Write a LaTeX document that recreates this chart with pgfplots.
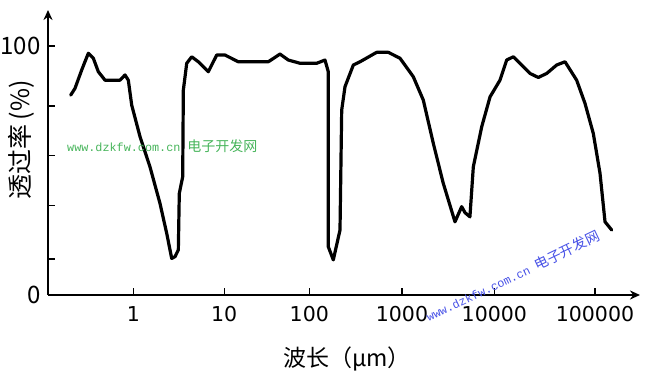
\documentclass[border=0pt]{standalone}
\usepackage{pgfplots}
\pgfplotsset{compat=1.18}
\usetikzlibrary{arrows.meta}
\usepackage{fontspec}
\setmainfont{Noto Sans CJK SC}
\newfontfamily\wmmono{Liberation Mono}
\newfontfamily\tickfont{DejaVu Sans}
\definecolor{wmgreen}{RGB}{70,180,90}
\definecolor{wmblue}{RGB}{70,80,230}
\begin{document}
\begin{tikzpicture}[x=1pt,y=1pt]
\useasboundingbox (-48,-87) rectangle (599,295);
\begin{axis}[
  at={(0,0)}, anchor=south west,
  scale only axis, width=592pt, height=285pt,
  xmin=-0.932, xmax=6.395, ymin=0, ymax=114.5,
  axis lines=left,
  axis line style={line width=2.6pt, -{Stealth[length=10pt,width=9pt]}},
  xtick={0.124,1.249,2.302,3.449,4.592,5.838},
  xticklabels={1,10,100,1000,10000,100000},
  ytick={0,14.5,36,56,76,100},
  yticklabels={0\hspace{5pt},,,,,100},
  tick align=inside,
  major tick length=7pt,
  tick style={black, line width=1.4pt},
  /pgf/number format/assume math mode=true,
  x tick label style={font=\tickfont\fontsize{20.5}{20.5}\selectfont, yshift=-8pt},
  y tick label style={font=\fontsize{24}{24}\selectfont, xshift=-4pt},
  xlabel={波长（µm）}, ylabel={透过率\,(\%)},
  every axis x label/.style={at={(rel axis cs:0.505,-0.2246)}, anchor=center, font=\fontsize{23}{23}\selectfont},
  every axis y label/.style={at={(rel axis cs:-0.0456,0.544)}, rotate=90, anchor=center, font=\fontsize{25}{25}\selectfont},
  clip=false,
]
\addplot[black, line width=3.2pt, line join=round, line cap=round] coordinates {
(-0.651,80.3) (-0.598,83.0) (-0.515,90.4) (-0.433,97.1) (-0.371,95.1) (-0.309,89.7)
(-0.226,86.3) (-0.041,86.3) (0.021,88.4) (0.062,86.3) (0.104,76.3) (0.207,63.6)
(0.330,51.5) (0.454,36.8) (0.537,24.8) (0.599,14.7) (0.640,15.4) (0.681,18.1)
(0.693,40.8) (0.735,47.5) (0.743,82.3) (0.785,93.1) (0.847,95.7) (0.928,93.7)
(1.052,89.7) (1.156,96.4) (1.259,96.4) (1.423,93.7) (1.795,93.7) (1.939,96.8)
(2.042,94.4) (2.187,93.1) (2.394,93.1) (2.496,94.4) (2.537,89.7) (2.537,19.4)
(2.599,14.1) (2.682,26.1) (2.703,74.3) (2.744,83.7) (2.847,92.4) (2.930,93.7)
(3.136,97.5) (3.280,97.5) (3.425,95.1) (3.589,87.7) (3.713,78.3) (3.837,60.9)
(3.960,44.9) (4.105,29.4) (4.188,35.5) (4.229,33.1) (4.290,31.4) (4.332,51.5)
(4.436,67.6) (4.539,79.6) (4.662,86.3) (4.745,94.4) (4.827,95.7) (4.931,92.4)
(5.034,89.0) (5.136,87.4) (5.240,89.0) (5.364,92.4) (5.467,93.7) (5.611,86.3)
(5.714,77.0) (5.817,64.9) (5.900,48.9) (5.962,29.4) (6.045,26.1)
};
\node[text=wmgreen, anchor=center, inner sep=0pt] at (axis cs:0.483,59.6)
  {{\wmmono\fontsize{11.8}{12}\selectfont www.dzkfw.com.cn}\hspace{7pt}{\fontsize{14}{14}\selectfont 电子开发网}};
\node[text=wmblue, anchor=center, inner sep=0pt, rotate=25.5] at (axis cs:4.817,7.6)
  {{\wmmono\fontsize{11.8}{12}\selectfont www.dzkfw.com.cn}\hspace{7pt}{\fontsize{14}{14}\selectfont 电子开发网}};
\end{axis}
\end{tikzpicture}
\end{document}
